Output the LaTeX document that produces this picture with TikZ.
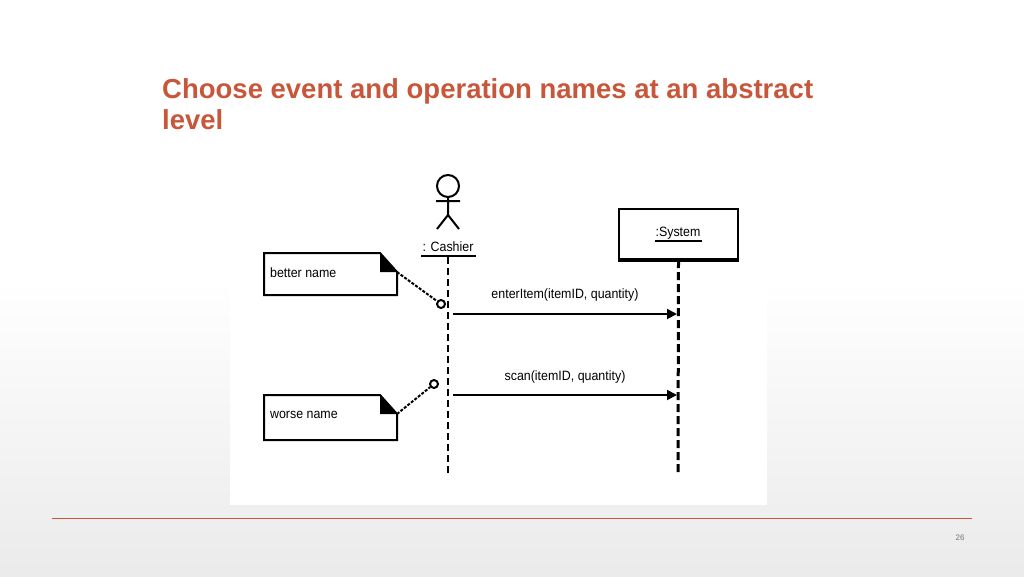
\documentclass[tikz,border=0pt]{standalone}
\usepackage{fontspec}
\setmainfont{Liberation Sans}
\usetikzlibrary{arrows.meta}
\definecolor{ttl}{RGB}{200,86,58}
\tikzset{notebox/.style={draw,line width=2pt},
 msg/.style={line width=1.8pt,-{Triangle[length=10pt,width=10pt]}},
 lbl/.style={font=\fontsize{13.5}{15}\selectfont,inner sep=1pt,xscale=0.92},
 anchorline/.style={line width=2pt,dash pattern=on 3pt off 1.5pt}}
\begin{document}
\begin{tikzpicture}[x=1pt,y=-1pt]
\useasboundingbox (0,0) rectangle (1024,576);
\shade[top color=white,bottom color=black!8] (0,280) rectangle (1024,576);
\fill[white] (230,170) rectangle (767,505);
\node[anchor=north west,text=ttl,font=\fontsize{27.5}{31}\bfseries\selectfont,inner sep=0,align=left] (title) at (162,78) {Choose event and operation names at an abstract\\level};
% actor
\draw[line width=2pt] (448,186) circle (11);
\draw[line width=2pt] (448,197) -- (448,215) (436,201) -- (460,201) (437,229) -- (448,215) -- (459,229);
\node[lbl] (cash) at (448,247) {: Cashier};
\draw[line width=1.3pt] (421,256) -- (476,256);
\coordinate (ct) at (448,257); \coordinate (cb) at (448,475);
\draw[line width=1.5pt,dash pattern=on 7pt off 4pt] (ct) -- (cb);
% system
\node[draw,line width=2pt,minimum width=119,minimum height=50] (sys) at (678.5,234) {};
\draw[line width=3.5pt] (sys.south west) -- (sys.south east);
\node[lbl] (syst) at (678,233) {:System};
\draw[line width=1.3pt] (655,241) -- (702,241);
\coordinate (sb) at (678,475);
\draw[line width=3pt,dash pattern=on 8pt off 4pt] (sys.south) -- (sb);
% notes
\foreach \n/\y/\h/\t in {a/253/42/better name,b/395/45/worse name}{
 \draw[notebox] (264,\y) -- (380,\y) -- (397,\y+19) -- (397,\y+\h) -- (264,\y+\h) -- cycle;
 \fill (380,\y) -- (380,\y+19) -- (397,\y+19) -- cycle;
 \node[lbl,anchor=west] (t\n) at (269,\y+20) {\t};
 \coordinate (c\n) at (397,\y+19);
}
\node[draw,circle,line width=2pt,inner sep=0,minimum size=8] (oa) at (441,304) {};
\node[draw,circle,line width=2pt,inner sep=0,minimum size=8] (ob) at (434,384) {};
\draw[anchorline] (ca) -- (oa);
\draw[anchorline] (cb) -- (ob);
% messages
\coordinate (m1s) at (453,314); \coordinate (m1e) at (677,314);
\coordinate (m2s) at (453,395); \coordinate (m2e) at (677,395);
\draw[msg] (m1s) -- node[lbl,above=11pt] {enterItem(itemID, quantity)} (m1e);
\draw[msg] (m2s) -- node[lbl,above=10pt] {scan(itemID, quantity)} (m2e);
% footer
\draw[ttl,line width=0.8pt] (52,518) -- (972,518);
\node[text=black!55,font=\fontsize{8}{9}\selectfont] (pg) at (960,538) {26};
\end{tikzpicture}
\end{document}
